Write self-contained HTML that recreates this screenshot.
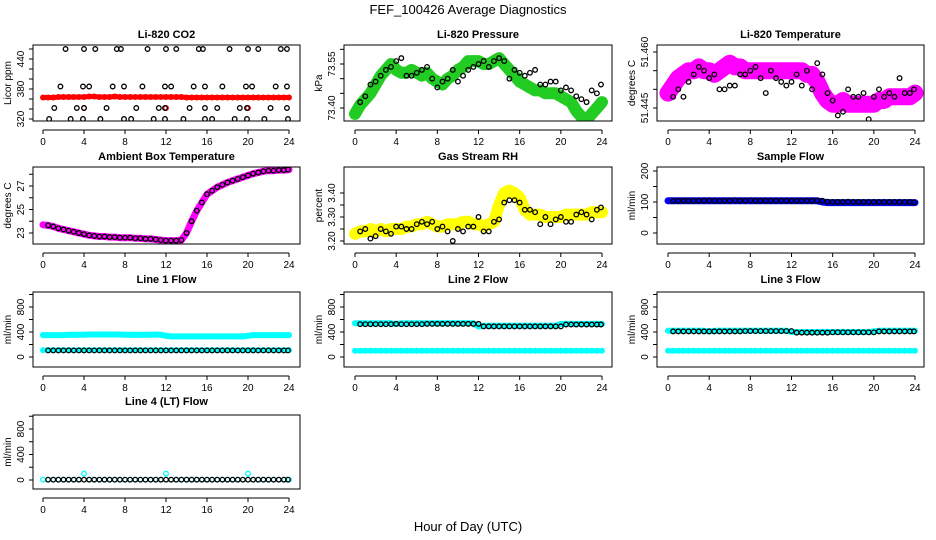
<!DOCTYPE html>
<html><head><meta charset="utf-8">
<style>
body{margin:0;background:#fff;}
svg{display:block;font-family:"Liberation Sans",sans-serif;}
</style></head>
<body>
<svg id="c" width="936" height="540" viewBox="0 0 936 540">
<rect width="936" height="540" fill="#fff"/>
<text x="468" y="14" text-anchor="middle" font-size="13">FEF_100426  Average Diagnostics</text>
<text x="468" y="531" text-anchor="middle" font-size="13">Hour of Day (UTC)</text>
</svg>
<script>
const xTicks=[0,4,8,12,16,20,24];
const hc=[0,0.5,1,1.5,2,2.5,3,3.5,4,4.5,5,5.5,6,6.5,7,7.5,8,8.5,9,9.5,10,10.5,11,11.5,12,12.5,13,13.5,14,14.5,15,15.5,16,16.5,17,17.5,18,18.5,19,19.5,20,20.5,21,21.5,22,22.5,23,23.5,24];
const hb=[0.5,1,1.5,2,2.5,3,3.5,4,4.5,5,5.5,6,6.5,7,7.5,8,8.5,9,9.5,10,10.5,11,11.5,12,12.5,13,13.5,14,14.5,15,15.5,16,16.5,17,17.5,18,18.5,19,19.5,20,20.5,21,21.5,22,22.5,23,23.5,23.9];

const co2Red=[363,363,363,364,364,364,364,364,364,365,365,364,364,364,365,364,364,364,364,364,364,364,364,364,364,364,364,364,363,363,363,363,363,363,363,363,363,363,363,363,363,363,363,363,363,363,363,363,363];
const co2BH=[2.2,4,5.1,7.2,7.6,10.2,12,13,15.2,15.6,18.2,20,21,23.2,23.8,1.7,3.9,4.5,6.8,7.9,9.7,11.9,12.5,14.7,15.8,17.5,19.8,20.4,22.7,23.8,1.1,3.3,4,6.2,9.1,11.3,11.9,14.3,15.8,17,19.2,19.9,22.2,23.8,0.6,2.7,3.9,5.6,7.9,8.6,10.8,11.9,13.7,15.8,16.5,18.7,19.9,21.6,23.9];
const co2BV=[460,460,460,460,460,460,460,460,460,460,460,460,460,460,460,385,385,385,385,385,385,385,385,385,385,385,385,385,385,385,342,342,342,342,342,342,342,342,342,342,342,342,342,342,320,320,320,320,320,320,320,320,320,320,320,320,320,320,320];

const presG=[73.38,73.41,73.43,73.45,73.48,73.51,73.53,73.55,73.53,73.52,73.52,73.53,73.52,73.51,73.52,73.50,73.49,73.48,73.50,73.51,73.53,73.54,73.56,73.56,73.56,73.55,73.55,73.56,73.57,73.55,73.53,73.51,73.49,73.48,73.47,73.46,73.46,73.45,73.45,73.45,73.44,73.43,73.42,73.39,73.37,73.36,73.38,73.40,73.42];
const presB=[73.42,73.44,73.48,73.49,73.51,73.53,73.54,73.56,73.57,73.51,73.51,73.52,73.53,73.54,73.50,73.47,73.49,73.50,73.53,73.49,73.51,73.53,73.54,73.55,73.56,73.54,73.56,73.57,73.56,73.50,73.53,73.52,73.51,73.52,73.53,73.48,73.48,73.49,73.49,73.46,73.47,73.46,73.44,73.43,73.42,73.46,73.45,73.48];

const tempM=[51.449,51.451,51.453,51.454,51.455,51.455,51.456,51.455,51.455,51.454,51.455,51.456,51.457,51.456,51.456,51.455,51.455,51.455,51.455,51.455,51.455,51.455,51.455,51.455,51.455,51.455,51.455,51.454,51.454,51.452,51.449,51.447,51.446,51.446,51.447,51.446,51.446,51.446,51.446,51.446,51.446,51.447,51.447,51.448,51.448,51.448,51.448,51.448,51.449];
const tempB=[51.448,51.450,51.448,51.452,51.454,51.456,51.455,51.453,51.454,51.450,51.450,51.451,51.451,51.454,51.454,51.455,51.456,51.453,51.449,51.455,51.453,51.452,51.451,51.452,51.454,51.451,51.455,51.450,51.457,51.454,51.449,51.447,51.443,51.444,51.450,51.448,51.448,51.449,51.442,51.448,51.450,51.448,51.449,51.448,51.453,51.449,51.449,51.450];

const ambM=[23.7,23.65,23.55,23.4,23.3,23.2,23.1,23.0,22.9,22.8,22.75,22.7,22.7,22.65,22.65,22.6,22.6,22.6,22.55,22.55,22.5,22.5,22.45,22.4,22.35,22.35,22.35,22.4,23.0,24.0,24.9,25.6,26.3,26.6,26.9,27.1,27.3,27.45,27.6,27.75,27.9,28.05,28.15,28.25,28.3,28.3,28.35,28.35,28.4];
const ambB=[23.65,23.55,23.4,23.3,23.2,23.1,23.0,22.9,22.8,22.75,22.7,22.7,22.65,22.65,22.6,22.6,22.6,22.55,22.55,22.5,22.5,22.45,22.4,22.35,22.35,22.35,22.4,23.0,24.0,24.9,25.6,26.3,26.6,26.9,27.1,27.3,27.45,27.6,27.75,27.9,28.05,28.15,28.25,28.3,28.3,28.35,28.35,28.4];

const rhY=[3.23,3.24,3.24,3.25,3.24,3.25,3.24,3.25,3.25,3.25,3.26,3.26,3.27,3.27,3.28,3.27,3.26,3.26,3.27,3.27,3.27,3.28,3.28,3.27,3.27,3.26,3.27,3.28,3.35,3.40,3.41,3.40,3.38,3.33,3.31,3.31,3.31,3.30,3.30,3.30,3.30,3.31,3.31,3.31,3.31,3.31,3.32,3.32,3.32];
const rhB=[3.24,3.25,3.21,3.22,3.25,3.24,3.23,3.26,3.26,3.25,3.25,3.27,3.28,3.27,3.28,3.25,3.26,3.24,3.20,3.25,3.24,3.26,3.26,3.30,3.24,3.24,3.28,3.29,3.36,3.37,3.37,3.36,3.33,3.33,3.32,3.27,3.30,3.27,3.29,3.30,3.28,3.28,3.31,3.32,3.31,3.29,3.33,3.34];

const sfBlue=[104,104,104,104,104,104,104,104,104,104,104,104,104,104,104,104,104,104,104,104,104,104,104,104,104,104,104,104,104,104,100,98,98,98,98,98,98,98,98,98,98,98,98,98,98,98,98,98,98];
const sfB=[103,104,104,104,103,104,104,105,104,103,104,104,105,104,104,105,104,104,104,104,104,104,104,104,104,104,104,104,104,104,101,100,100,100,101,100,100,100,100,100,100,100,100,100,100,100,100,99];

const l1CyanHi=[350,350,350,350,350,355,355,355,355,360,360,360,360,360,360,360,355,355,355,355,355,355,360,355,340,330,330,330,330,330,330,330,330,330,330,330,330,330,330,330,340,350,350,350,350,350,350,350,350];
const l1CyanLo=[110,110,110,110,110,110,110,110,110,110,110,110,110,110,110,110,110,110,110,110,110,110,110,110,110,110,110,110,110,110,110,110,110,110,110,110,110,110,110,110,110,110,110,110,110,110,110,110,110];
const l1B=[105,105,105,105,105,105,105,105,105,105,105,105,105,105,105,105,105,105,105,105,105,105,105,105,105,105,105,105,105,105,105,105,105,105,105,105,105,105,105,105,105,105,105,105,105,105,105,105];

const l2CyanHi=[540,540,540,540,540,540,540,540,530,540,540,540,540,540,540,540,540,540,540,540,540,540,540,540,490,500,500,500,500,500,500,500,500,500,500,500,500,500,500,500,530,530,530,530,530,530,530,530,530];
const l2CyanLo=[100,100,100,100,100,100,100,100,100,100,100,100,100,100,100,100,100,100,100,100,100,100,100,100,100,100,100,100,100,100,100,100,100,100,100,100,100,100,100,100,100,100,100,100,100,100,100,100,100];
const l2B=[525,525,525,525,525,525,525,530,525,525,525,525,525,530,530,530,530,530,530,530,530,530,530,530,490,490,490,490,490,490,490,490,490,490,490,490,490,490,490,490,520,520,520,520,520,520,520,520];

const l3CyanHi=[420,420,420,420,420,420,420,420,410,420,420,420,420,420,420,420,420,420,420,420,420,420,420,420,400,400,400,400,400,400,400,400,400,400,400,400,400,400,400,400,410,420,420,420,420,420,420,420,420];
const l3CyanLo=[100,100,100,100,100,100,100,100,100,100,100,100,100,100,100,100,100,100,100,100,100,100,100,100,100,100,100,100,100,100,100,100,100,100,100,100,100,100,100,100,100,100,100,100,100,100,100,100,100];
const l3B=[410,410,410,410,410,410,410,410,410,410,410,410,410,410,415,415,415,415,415,415,415,415,415,415,390,390,390,390,390,390,390,395,395,395,395,395,395,395,395,395,410,410,410,410,410,410,410,410];

const l4Cyan=[5,5,5,5,5,5,5,5,100,5,5,5,5,5,5,5,5,5,5,5,5,5,5,5,100,5,5,5,5,5,5,5,5,5,5,5,5,5,5,5,100,5,5,5,5,5,5,5,5];
const l4B=[5,5,5,5,5,5,5,5,5,5,5,5,5,5,5,5,5,5,5,5,5,5,5,5,5,5,5,5,5,5,5,5,5,5,5,5,5,5,5,5,5,5,5,5,5,5,5,5];

const cols=[{L:33,R:300,x0:43,x1:289},{L:344,R:612,x0:355,x1:602},{L:657,R:924,x0:668,x1:915}];
const rows=[{T:45,B:121,ty:38},{T:167,B:244,ty:160},{T:292,B:367,ty:283},{T:415,B:489,ty:405}];
const NS='http://www.w3.org/2000/svg';
const svg=document.getElementById('c');
function mk(tag,attrs,parent){const e=document.createElementNS(NS,tag);for(const k in attrs)e.setAttribute(k,attrs[k]);(parent||svg).appendChild(e);return e;}

const panels=[
 {name:'co2',title:'Li-820 CO2',ylab:'Licor ppm',c:0,r:0,cal:[320,119,440,59],ticks:[320,340,360,380,400,420,440,460],labels:[320,380,440],fmt:v=>v,
  series:[{x:hc,y:co2Red,col:'#ff0000',band:5},{x:[4,12,20],y:[342,342,342],col:'#ff0000',band:0},{x:co2BH,y:co2BV,col:'#000',band:0}]},
 {name:'pressure',title:'Li-820 Pressure',ylab:'kPa',c:1,r:0,cal:[73.40,108,73.55,64],ticks:[73.40,73.45,73.50,73.55,73.60],labels:[73.40,73.55],fmt:v=>v.toFixed(2),
  series:[{x:hc,y:presG,col:'#22cc22',band:12},{x:hb,y:presB,col:'#000',band:0}]},
 {name:'temperature',title:'Li-820 Temperature',ylab:'degrees C',c:2,r:0,cal:[51.445,108,51.460,52],ticks:[51.445,51.450,51.455,51.460],labels:[51.445,51.460],fmt:v=>v.toFixed(3),
  series:[{x:hc,y:tempM,col:'#ff00ff',band:17},{x:hb,y:tempB,col:'#000',band:0}]},
 {name:'ambient',title:'Ambient Box Temperature',ylab:'degrees C',c:0,r:1,cal:[23,233,27,186],ticks:[23,24,25,26,27,28],labels:[23,25,27],fmt:v=>v,
  series:[{x:hc,y:ambM,col:'#ff00ff',band:7},{x:hb,y:ambB,col:'#000',band:0}]},
 {name:'rh',title:'Gas Stream RH',ylab:'percent',c:1,r:1,cal:[3.20,241,3.40,193],ticks:[3.20,3.25,3.30,3.35,3.40],labels:[3.20,3.30,3.40],fmt:v=>v.toFixed(2),
  series:[{x:hc,y:rhY,col:'#ffff00',band:12},{x:hb,y:rhB,col:'#000',band:0}]},
 {name:'sample-flow',title:'Sample Flow',ylab:'ml/min',c:2,r:1,cal:[0,233,200,171],ticks:[0,50,100,150,200],labels:[0,100,200],fmt:v=>v,
  series:[{x:hc,y:sfBlue,col:'#0000ee',band:7},{x:hb,y:sfB,col:'#000',band:0}]},
 {name:'line1',title:'Line 1 Flow',ylab:'ml/min',c:0,r:2,cal:[0,357,800,307],ticks:[0,200,400,600,800,1000],labels:[0,400,800],fmt:v=>v,
  series:[{x:hc,y:l1CyanHi,col:'#00ffff',band:6},{x:hc,y:l1CyanLo,col:'#00ffff',band:5},{x:hb,y:l1B,col:'#000',band:0}]},
 {name:'line2',title:'Line 2 Flow',ylab:'ml/min',c:1,r:2,cal:[0,357,800,307],ticks:[0,200,400,600,800,1000],labels:[0,400,800],fmt:v=>v,
  series:[{x:hc,y:l2CyanHi,col:'#00ffff',band:6},{x:hc,y:l2CyanLo,col:'#00ffff',band:5},{x:hb,y:l2B,col:'#000',band:0}]},
 {name:'line3',title:'Line 3 Flow',ylab:'ml/min',c:2,r:2,cal:[0,357,800,307],ticks:[0,200,400,600,800,1000],labels:[0,400,800],fmt:v=>v,
  series:[{x:hc,y:l3CyanHi,col:'#00ffff',band:6},{x:hc,y:l3CyanLo,col:'#00ffff',band:5},{x:hb,y:l3B,col:'#000',band:0}]},
 {name:'line4',title:'Line 4 (LT) Flow',ylab:'ml/min',c:0,r:3,cal:[0,480,800,429],ticks:[0,200,400,600,800,1000],labels:[0,400,800],fmt:v=>v,
  series:[{x:hc,y:l4Cyan,col:'#00ffff',band:0},{x:hb,y:l4B,col:'#000',band:0}]}
];

panels.forEach(p=>{
  const C=cols[p.c],R=rows[p.r];
  const xs=h=>C.x0+(C.x1-C.x0)*h/24;
  const [v0,p0,v1,p1]=p.cal;
  const ys=v=>p0+(v-v0)*(p1-p0)/(v1-v0);
  const g=mk('g',{});
  
  
  const t=mk('text',{x:(C.L+C.R)/2,y:R.ty,'text-anchor':'middle','font-size':11,'font-weight':'bold'},g);
  t.textContent=p.title;
  
  
  const cp='clip-'+p.name;
  const cl=mk('clipPath',{id:cp},g);mk('rect',{x:C.L,y:R.T,width:C.R-C.L,height:R.B-R.T},cl);
  const data=mk('g',{'clip-path':'url(#'+cp+')'},g);
  p.series.forEach((s,si)=>{
    const n=Math.min(s.x.length,s.y.length);
    const sg=mk('g',{},data);
    
    
    if(s.band>0){
      let d='';for(let i=0;i<n;i++)d+=(i?'L':'M')+xs(s.x[i]).toFixed(1)+' '+ys(s.y[i]).toFixed(1);
      mk('path',{d:d,fill:'none',stroke:s.col,'stroke-width':s.band,'stroke-linejoin':'round','stroke-linecap':'round'},sg);
    }
    for(let i=0;i<n;i++){
      const c=mk('circle',{cx:xs(s.x[i]),cy:ys(s.y[i]),r:2.3,fill:'none',stroke:s.col,'stroke-width':1.3},sg);
      
      
    }
  });
  const box=mk('rect',{x:C.L,y:R.T,width:C.R-C.L,height:R.B-R.T,fill:'none',stroke:'#000','stroke-width':1},g);
  
  
  const ax=R.B+9;
  const xa=mk('g',{},g);
  
  
  mk('line',{x1:xs(0),x2:xs(24),y1:ax,y2:ax,stroke:'#000'},xa);
  xTicks.forEach(v=>{
    mk('line',{x1:xs(v),x2:xs(v),y1:ax,y2:ax+4,stroke:'#000'},xa);
    const tl=mk('text',{x:xs(v),y:ax+15,'text-anchor':'middle','font-size':10},xa);tl.textContent=v;
  });
  const ya=mk('g',{},g);
  
  
  const tk=p.ticks.filter(v=>ys(v)>=R.T-1&&ys(v)<=R.B+1);
  mk('line',{x1:C.L,x2:C.L,y1:ys(tk[0]),y2:ys(tk[tk.length-1]),stroke:'#000'},ya);
  tk.forEach(v=>mk('line',{x1:C.L-4,x2:C.L,y1:ys(v),y2:ys(v),stroke:'#000'},ya));
  p.labels.forEach(v=>{
    const yy=ys(v);
    const tl=mk('text',{x:C.L-9,y:yy,'text-anchor':'middle','font-size':10,transform:`rotate(-90 ${C.L-9} ${yy})`},ya);
    tl.textContent=p.fmt(v);
  });
  const yl=(R.T+R.B)/2;
  const ylab=mk('text',{x:C.L-22,y:yl,'text-anchor':'middle','font-size':10,transform:`rotate(-90 ${C.L-22} ${yl})`},g);
  ylab.textContent=p.ylab;
  
  
});
</script>
</body></html>
